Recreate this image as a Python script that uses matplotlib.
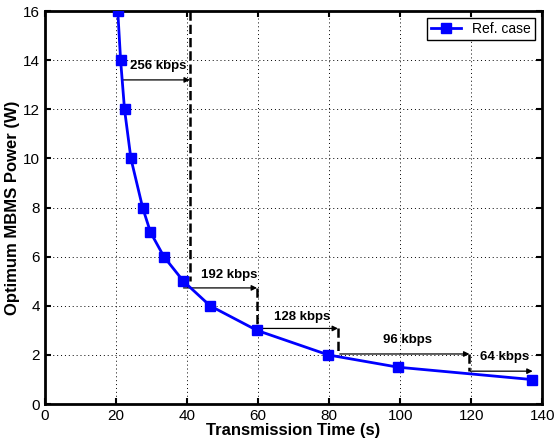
import numpy as np
import matplotlib
matplotlib.use("Agg")
import matplotlib.pyplot as plt

plt.rcParams["font.family"] = ["Liberation Sans", "DejaVu Sans"]

# data
tx_time = [20.5, 21.3, 22.4, 24.2, 27.5, 29.7, 33.5, 39.0, 46.5, 59.7, 79.8, 99.5, 137.0]
power = [16, 14, 12, 10, 8, 7, 6, 5, 4, 3, 2, 1.5, 1]

# rate switch annotations: label, arrow start x, arrow end x, arrow y, dashed drop to y
rate_labels = ["256 kbps", "192 kbps", "128 kbps", "96 kbps", "64 kbps"]
arrow_x0 = [22.0, 39.0, 59.7, 83.0, 119.8]
arrow_x1 = [40.8, 59.7, 82.5, 119.5, 137.3]
arrow_y = [13.2, 4.73, 3.08, 2.04, 1.34]
drop_top = [16.0, 4.73, 3.08, 2.04]
drop_bot = [5.0, 3.0, 2.0, 1.34]
label_x = [32.0, 52.0, 72.4, 102.0, 129.5]
label_y = [13.75, 5.25, 3.55, 2.6, 1.9]

fig = plt.figure(figsize=(5.55, 4.46), dpi=100)
ax = fig.add_axes([0.081, 0.094, 0.896, 0.881])

ax.plot(tx_time, power, "-s", color="#0000ff", lw=2, markersize=6.5,
        markerfacecolor="#0000ff", markeredgecolor="#0000ff", label="Ref. case", zorder=3)

for i in range(len(drop_top)):
    ax.plot([arrow_x1[i], arrow_x1[i]], [drop_top[i], drop_bot[i]], "--", color="black", lw=1.8, zorder=2)

for i in range(len(rate_labels)):
    ax.annotate("", xy=(arrow_x1[i], arrow_y[i]), xytext=(arrow_x0[i], arrow_y[i]),
                arrowprops=dict(arrowstyle="-|>", color="black", lw=0.9,
                                mutation_scale=8, shrinkA=0, shrinkB=0), zorder=2)
    ax.text(label_x[i], label_y[i], rate_labels[i], ha="center", va="center",
            fontsize=9.5, fontweight="bold")

ax.set_xlim(0, 140)
ax.set_ylim(0, 16)
ax.set_xticks(np.arange(0, 141, 20))
ax.set_yticks(np.arange(0, 17, 2))
ax.grid(True, linestyle=(0, (1, 3)), color="black", lw=0.7)
ax.tick_params(direction="in", labelsize=11, length=4, width=1.5, top=True, right=True)
for s in ax.spines.values():
    s.set_linewidth(2)

ax.set_xlabel("Transmission Time (s)", fontsize=12, fontweight="bold", labelpad=0)
ax.set_ylabel("Optimum MBMS Power (W)", fontsize=12, fontweight="bold", labelpad=2)

leg = ax.legend(loc="upper right", fontsize=10, fancybox=False, framealpha=1,
                edgecolor="black", borderpad=0.3, handlelength=2.2)
leg.get_frame().set_linewidth(1)

fig.savefig("out.png", dpi=100)
